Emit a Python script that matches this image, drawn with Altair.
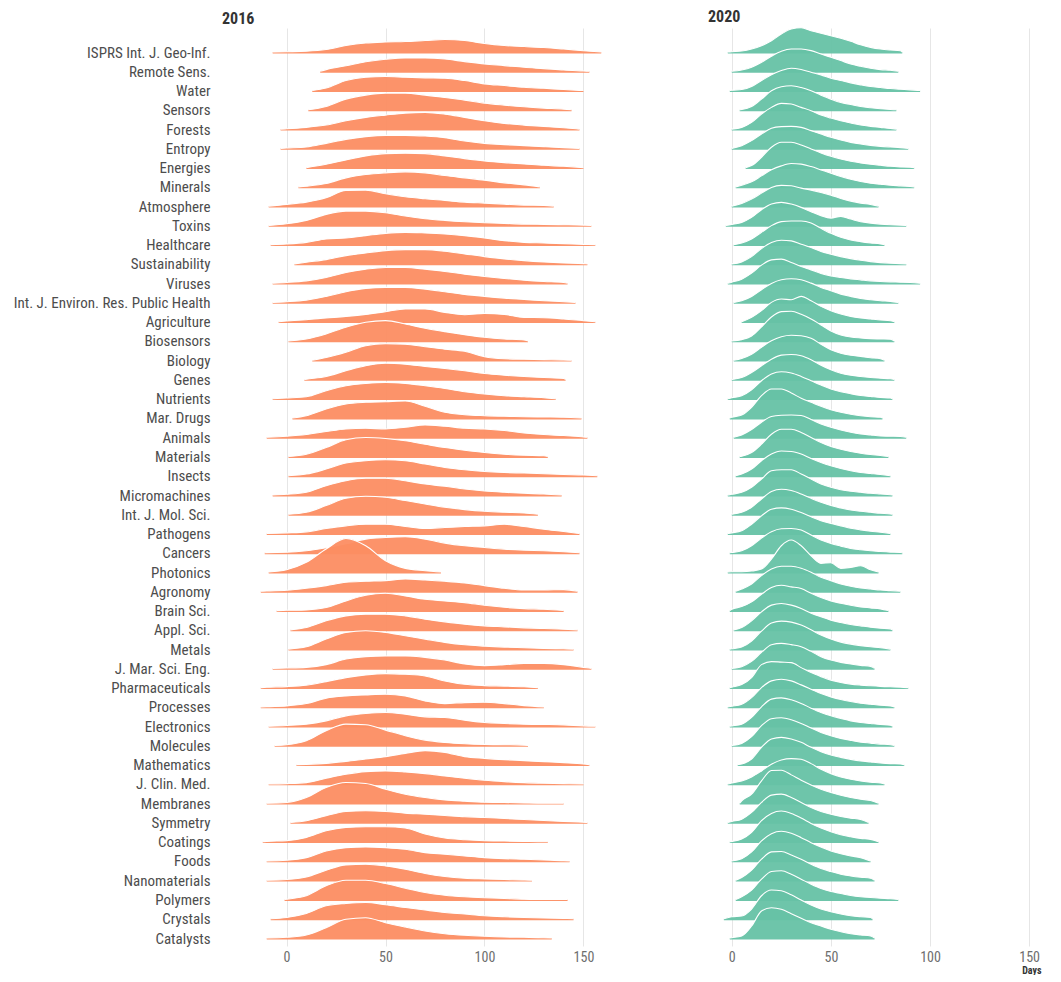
import json
import altair as alt
import pandas as pd

journals = [
    "ISPRS Int. J. Geo-Inf.", "Remote Sens.", "Water", "Sensors", "Forests", "Entropy",
    "Energies", "Minerals", "Atmosphere", "Toxins", "Healthcare", "Sustainability",
    "Viruses", "Int. J. Environ. Res. Public Health", "Agriculture", "Biosensors",
    "Biology", "Genes", "Nutrients", "Mar. Drugs", "Animals", "Materials", "Insects",
    "Micromachines", "Int. J. Mol. Sci.", "Pathogens", "Cancers", "Photonics",
    "Agronomy", "Brain Sci.", "Appl. Sci.", "Metals", "J. Mar. Sci. Eng.",
    "Pharmaceuticals", "Processes", "Electronics", "Molecules", "Mathematics",
    "J. Clin. Med.", "Membranes", "Symmetry", "Coatings", "Foods", "Nanomaterials",
    "Polymers", "Crystals", "Catalysts",
]

# ridge heights at these day positions
days_2016 = list(range(-10, 161, 10))
h_2016 = [
    [0,0.3,0.8,2.5,6.5,9,10,10.5,11.5,12.5,11.5,8.5,6.5,5.5,4.5,3,1.3,0.2],
    [0,0,0.3,1.7,5.5,9.5,12,13.3,13.3,12.3,9.7,7.3,5.7,4,2.7,1.3,0.3,0],
    [0,0,0.5,2.5,10,13.3,14,13.3,12.7,12.3,10,6.7,5,3.3,2.3,1,0.3,0],
    [0,0,0.3,3.3,10.7,14.7,16.7,16.7,14.7,12.3,9.7,6.7,4.7,3,1.7,0.7,0.2,0],
    [0,0.3,1.7,4,8.3,11.7,14,16,16.7,15,11.7,8.3,5.7,4,2.7,1.3,0.3,0],
    [0,0.3,1.3,5,9,11.7,13,13,12.3,10.7,7.3,5,3.7,2.7,1.7,0.7,0.3,0],
    [0,0,0.3,3.3,7.7,11.7,14,14.3,14,11.7,9,6.7,5,3.7,2.3,1.3,0.3,0],
    [0,0,0.7,3.3,9,12.3,14,15,14,11.3,9,6.7,4,2,0.7,0.2,0,0],
    [0.3,1.7,4,8.3,15.7,16,12.3,9.3,7.3,5.7,4,3,2,1,0.7,0.2,0,0],
    [0.3,1.7,5,11,14.3,14.3,12.7,9.3,6.7,5,3.7,2.7,2,1.3,1,0.7,0.3,0],
    [0.2,0.7,2.3,5.7,6.7,9,11.3,12.3,11.7,10.7,9,6.7,4,2.3,1.7,1,0.3,0],
    [0,0.3,1.7,4.3,8.3,11,13.3,14.3,14.3,12.7,10,7.3,5,3.3,2,1,0.3,0],
    [0,0.7,2.3,5.7,10.7,14,15.7,15.7,14,11.7,9,6.7,4.7,3,1.7,0.7,0,0],
    [0,0.7,2.3,6,10.7,14,15,15,13.3,10.7,8,6,4.3,3,1.7,0.7,0.2,0],
    [0,0.7,2,3.7,5.3,7.3,10,12.7,12.7,9.3,7,8.3,7.3,4.3,4,2.7,1,0.2],
    [0,0.3,2,7,13.7,18.7,20.3,17,12.7,9.3,6.3,3.7,2,1,0.3,0,0,0],
    [0,0,0.3,2.7,8,14.5,16.5,16,13.5,11,9,3.5,1.5,1,0.6,0.3,0.1,0],
    [0,0,0.3,3,8.7,13.7,16.3,15.3,13,11,8.7,6,4.3,3,2,1,0.3,0],
    [0,0.7,2,8,13,15.3,16.3,15.3,13,10.3,7,4.7,3,2,1,0.3,0,0],
    [0,0.3,2.3,9,14,15.7,16.3,17,11.7,5.7,3.3,2.3,1.7,1.3,1,0.7,0.3,0],
    [0.2,1,2.7,5.7,8.3,9,8.3,10,12.3,11,9,8.3,6.7,4.3,2.7,1.7,0.3,0],
    [0,0.3,2.3,9,16.7,19,18,15.7,12.3,9,6.3,4,2.3,1.3,0.7,0.3,0,0],
    [0,0.3,1.7,6.7,12.7,15,16,15,11.7,8.3,6,4.3,3.3,2.7,2,1.3,0.7,0.2],
    [0,0.7,2.7,9.3,14.3,16.7,16.7,14.3,11,8.7,6,4,2.7,1.7,1,0.3,0,0],
    [0,0.3,2,8.7,16,18,17,13.7,10.3,7,4.7,3,2,1.3,0.7,0.3,0,0],
    [0.2,0.7,1.7,5,7.7,9.3,9.3,7,5,6,7,7.7,9.3,7,4.3,2,0.3,0],
    [0.2,0.5,2,5,9,13.7,15.3,16,13.7,9.7,7,5.3,3.7,2.7,2,1,0.3,0],
    [0.3,2.3,9.7,23,33.5,26.3,11.3,3.7,1.3,0.7,0.3,0,0,0,0,0,0,0],
    [0.3,1,3,5.7,9,10,10.7,12.3,11.3,10,8.3,5.7,3,1.3,1.3,1.7,0.7,0],
    [0,0.3,0.7,3,9.7,15.3,17.3,14.7,11.3,9.7,8,5.3,3.3,2,1.3,0.7,0,0],
    [0,0.3,2.3,9,14,15.7,15.7,14,10.7,8,5.7,4,3,2,1.3,0.7,0.3,0],
    [0,0.3,2.3,10,16.7,18.3,16.7,13.3,10,6.7,4.3,3,2,1.3,0.7,0.3,0,0],
    [0,0.3,1,3.7,9.3,11.7,12.3,12.3,11,8.3,4.3,2.7,3.7,5,5,3.7,1,0.2],
    [0.3,1,2.5,6,10,12.7,14,13.3,11.7,6.7,3.3,2,1.5,0.8,0.3,0,0,0],
    [0.3,1,3.3,8.7,11,12,12.7,11,6,3.3,4.3,4.7,3.3,1.3,0.3,0,0,0],
    [0.2,0.7,2,5.3,10.3,12.7,13.7,12,9.3,8.7,6,3.7,2.7,2,1.7,1.3,0.3,0],
    [0,0.7,4.7,14.7,21.3,20.7,15.3,9.7,5.3,3,1.7,1,0.7,0.3,0,0,0,0],
    [0,0,0.3,1.3,3.3,5.7,8,11.3,14,12.3,8,6.3,5,4,3,2,0.7,0],
    [0,0.3,1.3,5.7,9.7,12.3,13,12,10.3,8,5.7,3.7,2.3,1.3,0.7,0.3,0,0],
    [0.2,0.7,5.7,15.7,20.7,19.7,14,9,5.7,3.3,2,1,0.7,0.3,0,0,0,0],
    [0,0.3,1.7,6.7,11,11.7,11,9.3,8.3,7,5.7,5,4,3,2,1,0.3,0],
    [0.3,1,4.3,11,14.3,15,15,13.7,7.7,3.7,2,1,0.7,0.3,0,0,0,0],
    [0.2,0.7,3.3,10,13.3,14,13.3,11.7,8.3,6.7,5,3.3,2.3,1.7,1,0.3,0,0],
    [0.2,0.7,3.3,10,15.3,16,14.3,11,6.7,3.7,2,1.3,0.7,0.3,0,0,0,0],
    [0,0.3,3.7,13.7,19.3,19.3,16,11.3,7,4.3,2.7,1.7,1,0.3,0,0,0,0],
    [0.2,1.3,5.3,13,15.3,16.3,14,11.3,8.7,6.3,4.7,3,2,1.3,0.7,0.3,0,0],
    [0.2,0.7,3,10.3,18.7,20.3,15.3,11,7,4.3,2.7,1.7,1,0.7,0.3,0,0,0],
]
start_2016 = [-7,17,13,11,-3,-3,10,6,-9,-9,-8,4,-7,-7,-4,
              1,13,9,-7,3,-10,1,1,-7,1,-10,-11,-9,-13,-5,2,
              1,-7,-13,-13,-9,-6,5,-9,-10,2,-12,-10,-10,-1,-8,-10]
end_2016 = [159,153,150,144,148,148,150,128,135,154,156,152,142,146,156,
            122,144,141,136,149,152,132,157,139,127,148,148,78,147,140,147,
            145,154,127,130,156,122,153,150,140,152,132,143,124,142,145,134]

days_2020 = list(range(-5, 111, 5))
h_2020 = [
    [0,0.3,1,3,6.3,11.3,18,23,24.3,21.3,18.7,16.3,13.7,10.7,7.3,4.7,3,2,1.3,0.7,0.3,0,0,0],
    [0,0.2,1.3,4,9,15,20,22.3,22.3,20.7,17.3,14,10.7,7.3,5,3,1.7,1,0.3,0,0,0,0,0],
    [0,0.3,1,4,10,15.7,20,22.3,21,18.3,15.7,12.3,10,7.7,5.7,4,3,2,1.3,0.7,0.3,0,0,0],
    [0,0,0.3,3.3,10.7,19,23,24,22.3,19,14.7,10.7,7.3,5.3,3.3,2,1,0.3,0,0,0,0,0,0],
    [0,0.3,1.7,6.7,15,21.7,25.7,25,21.7,18.3,14,11,8.3,6,4,2.7,1.7,0.7,0.3,0,0,0,0,0],
    [0,0.7,2.7,7.7,14.3,20,21.7,22,21,17.7,14.3,11,8.3,6,4.3,3,2,1.3,0.7,0.3,0,0,0,0],
    [0,0,0,2,10.3,20.3,25.3,25.3,22.7,18.7,14.7,11.3,8.7,6.3,4.7,3.3,2.3,1.3,0.7,0.3,0,0,0,0],
    [0,0.3,1.7,5,11,17,21,23.3,22.7,20.3,17,13.7,10.3,7.7,5.3,3.7,2.7,1.7,1,0.3,0,0,0,0],
    [0,0.7,2.7,7,13,18.7,20.7,20.3,18,16,13.7,11,7.7,5,3,1.7,0.7,0.3,0,0,0,0,0,0],
    [0.3,1,3,8,15.7,21.3,23,21.3,18,13.7,9.7,7.3,9,6.3,3.7,2.3,1.3,0.7,0.3,0,0,0,0,0],
    [0,0.3,1.7,5.7,12.3,19,23,23.7,23.7,21.7,16.3,11.3,7.3,4.7,3,1.7,0.7,0.3,0,0,0,0,0,0],
    [0,0.3,2,7.3,15.3,21.3,23.7,23,19.7,16.3,12.3,9.7,7.3,5.3,3.7,2.3,1.3,0.7,0.3,0.2,0,0,0,0],
    [0.2,1,4,10,18,23.3,24,20.7,16.7,13.3,9.7,7.3,5.7,4.3,3.3,2.3,1.7,1.3,1,0.7,0.3,0,0,0],
    [0,0.3,1.7,6,12.7,19,22.7,23.7,22.7,19.3,15,11.7,8.3,6,4,2.7,1.7,1,0.3,0,0,0,0,0],
    [0,0,1,4.3,11,19.3,22.7,22,25.3,21,15.3,11,7.7,5.3,3.7,2.7,1.7,1,0.3,0,0,0,0,0],
    [0,0.3,1.3,5,14,24,29.3,29.7,26.7,22,16,10,6,4,3,2.3,2,1.7,1,0.3,0,0,0,0],
    [0,0.5,1.8,6,13,19.5,23.5,25,24.5,22,16,10.5,7,5,3.8,2.5,1.5,0.8,0.5,0.2,0,0,0,0],
    [0,0.3,2,7,13.7,20.3,24.3,25,23.7,19.7,14.3,9.7,6.3,4.3,3,2,1.3,0.7,0.3,0.2,0,0,0,0],
    [0.3,1,3,9,18,24.7,27,25.7,22.3,18,13.7,9.7,7,5,3.3,2.3,1.3,0.7,0.3,0,0,0,0,0],
    [0.3,0.7,3,10.7,22.3,29,29,25,19.7,15.7,11.7,8.3,5.7,3.7,2.3,1.3,0.7,0.3,0,0,0,0,0,0],
    [0,0.3,2.3,7.7,15,20.7,22,22.3,21.7,17.7,13.3,10,7.3,5,3.3,2.3,1.3,1,0.7,0.3,0,0,0,0],
    [0,0,0.3,4,12.3,22.3,27.3,27.3,24,19,14,10,7.3,5,3.3,2,1,0.3,0,0,0,0,0,0],
    [0,0.3,1.7,6.7,15,21.7,24.7,24.3,21.7,17.3,13.3,10,7.3,5,3.3,2.3,1.3,0.7,0.3,0,0,0,0,0],
    [0.3,0.7,2.7,7.7,16,24.3,25.3,25.3,21,16,11,7.7,5.3,3.7,2.7,1.7,1,0.3,0,0,0,0,0,0],
    [0,0.3,2,7,15.3,22.7,25,23.7,20.3,16,12,8.7,6.3,4.3,3,2,1,0.3,0,0,0,0,0,0],
    [0.3,0.7,2.7,9.3,17.7,24.3,25.7,24.3,21,16.7,12.7,10,7.7,5.3,3.7,2.3,1.3,0.7,0.3,0,0,0,0,0],
    [0,0.3,2,7,14.7,21,24,24.3,22.7,17.7,12.7,9.3,6.7,4.3,3,2,1.3,0.7,0.3,0.2,0,0,0,0],
    [0,0.3,0.3,1,3,13,26.3,32,26.3,16.3,8.7,9.3,3.7,4.7,6.3,2.3,0.3,0,0,0,0,0,0,0],
    [0,0.3,2.3,7.3,15.7,22.3,25,25,23,19,14,10.7,7.3,5,3.3,2.3,1.3,0.7,0.3,0,0,0,0,0],
    [0.3,1.3,4,8.7,16.3,23,25.3,23.7,22,17.3,13,9.7,7.3,5.3,3.7,2.7,1.7,1,0.3,0,0,0,0,0],
    [0,0.3,2.3,9,18,24.7,26.3,24.7,21.3,16.7,13,9.7,7.3,5.3,4,2.7,1.7,1,0.7,0.3,0,0,0,0],
    [0,0.3,2,8,18,26,28,27,24,19.3,14,10,7,5,3.5,2.3,1.3,0.7,0.3,0,0,0,0,0],
    [0,0.3,1.7,7,16,23.7,25,23.7,21.7,17,11.7,8.3,6,4.3,3,2,1.3,0.7,0.3,0,0,0,0,0],
    [0.2,0.5,3,10,23,26,25.5,25,20,15,11,7.5,5.2,3.5,2.5,1.8,1.2,0.8,0.5,0.3,0.2,0,0,0],
    [0.3,0.7,2.7,9.3,19.3,26,27.7,26,22,17.7,13.3,10,7.3,5.3,3.7,2.7,1.7,1,0.7,0.3,0,0,0,0],
    [0,0.3,2,8.7,19.3,27,28.3,26.3,22.7,18,13.7,10.3,7.7,5.3,3.7,2.7,1.7,1,0.7,0.3,0,0,0,0],
    [0,0.3,2,8.7,19.7,26.7,27.7,25.7,22,17.3,13,9.7,7,5,3.3,2.3,1.3,0.7,0.3,0,0,0,0,0],
    [0,0,0.7,5.7,17.3,25.7,27.3,25.7,22.3,17.3,13,9.7,7.3,5.3,3.7,2.7,1.7,1,0.7,0.3,0,0,0,0],
    [0.3,1,3,7,13,19.7,24,25.3,24.7,20.3,14.7,10.3,7,4.7,3,1.7,1,0.3,0,0,0,0,0,0],
    [0,0.3,2.3,9,22.3,32.7,33,28.3,23,18.3,14,10.7,8,5.7,4,2.7,1.7,1,0.3,0,0,0,0,0],
    [0.3,1,3.3,10,20,27.3,28.3,25,20,15,11,8.3,6,4.3,3,2,1,0.7,0.3,0,0,0,0,0],
    [0,0.3,2.7,9.3,21,28.3,30.7,28.3,23.7,18.3,13.7,10,7,5,3.3,2.3,1.3,0.7,0.5,0.2,0,0,0,0],
    [0,0.3,2.3,9,20,27.3,29.7,27.7,23.3,18.3,14,10,7.3,5,3.3,2.3,1.3,0.7,0.3,0,0,0,0,0],
    [0,0.3,2.7,10,21,28.3,28.7,25.3,21,16,11.7,8.7,6,4.3,3,2,1,0.7,0.3,0,0,0,0,0],
    [0,0.3,2.7,9.3,20.3,28,28.7,25.3,20.3,15.3,11,8,6,4,2.7,2,1.3,0.7,0.3,0.2,0.1,0,0,0],
    [0.7,2,2.7,9.7,23,28.7,28,24,18.7,13.7,9.7,7,4.7,3,2,1.3,0.7,0.3,0,0,0,0,0,0],
    [0,0.3,2,12,27,30.3,28.7,24.3,19.7,15.3,12,8.7,6.3,4.3,3,2,1,0.3,0,0,0,0,0,0],
]
start_2020 = [-2,0,-1,4,0,0,7,2,0,-3,1,0,-2,1,5,
              0,1,0,-2,-1,1,4,2,-2,0,-2,-1,-2,2,-1,1,
              -1,0,-1,-2,-1,0,3,-2,4,-2,-1,0,2,2,-4,-1]
end_2020 = [86,84,95,83,83,89,92,92,74,88,77,88,95,84,82,
            82,77,82,81,76,88,79,80,81,81,80,86,74,85,79,81,
            80,72,89,82,81,82,87,77,74,69,74,70,72,84,71,72]

N = len(journals)
ROW = 19.26          # vertical spacing of ridges in y units
THIN = 1.4           # tail thickness below each baseline
FONT = "'Roboto Condensed', 'Liberation Sans Narrow', 'DejaVu Sans Condensed', Roboto, sans-serif"


def build(heights, grid, starts, ends):
    rows = []
    for i, (name, vals, a, b) in enumerate(zip(journals, heights, starts, ends)):
        assert len(vals) == len(grid), (name, len(vals))
        base = (N - 1 - i) * ROW
        pts = [(a, 0.0)] + [(g, v) for g, v in zip(grid, vals) if a < g < b] + [(b, 0.0)]
        for x, v in pts:
            rows.append({"i": i, "journal": name, "x": x, "y": base + v, "y2": base - THIN})
    return pd.DataFrame(rows)


df16 = build(h_2016, days_2016, start_2016, end_2016)
df20 = build(h_2020, days_2020, start_2020, end_2020)

bases = [k * ROW for k in range(N)]
label_expr = json.dumps(journals[::-1]) + f"[round(datum.value / {ROW})]"
Y_DOMAIN = [-8, 910]
HEIGHT = 918
PX = 1.98  # pixels per day


def panel(df, color, xdom, title, title_dx, show_labels, xtitle):
    width = round((xdom[1] - xdom[0]) * PX)
    xaxis = alt.Axis(values=[0, 50, 100, 150], grid=True, gridColor="#e6e6e6", gridWidth=1,
                     domain=False, ticks=False, labelFontSize=14, labelColor="#6e6e6e",
                     labelFont=FONT, labelPadding=4, labelFlush=False,
                     title=xtitle if xtitle else None,
                     titleFontSize=10, titleFontWeight="bold", titleColor="#333333",
                     titleFont=FONT, titleAnchor="end", titleAlign="right", titlePadding=1)
    if show_labels:
        yaxis = alt.Axis(values=bases, labelExpr=label_expr, grid=False, domain=False,
                         ticks=False, labelPadding=33, labelFontSize=15, labelLimit=400,
                         labelColor="#4d4d4d", labelFont=FONT, labelOverlap=False,
                         labelFlush=False, title=None)
    else:
        yaxis = None
    X = alt.X("x:Q", scale=alt.Scale(domain=xdom, nice=False, zero=False), axis=xaxis)
    Y = alt.Y("y:Q", scale=alt.Scale(domain=Y_DOMAIN, nice=False, zero=False), axis=yaxis)
    layers = []
    for i in range(N):
        sub = alt.Chart().transform_filter(alt.datum.i == i)
        layers.append(sub.mark_area(color=color, opacity=0.95, interpolate="monotone")
                      .encode(x=X, y=Y, y2="y2:Q"))
        layers.append(sub.mark_line(color="white", strokeWidth=1.1, interpolate="monotone")
                      .encode(x=X, y=Y))
    return alt.layer(*layers, data=df).properties(
        width=width, height=HEIGHT,
        title=alt.TitleParams(title, anchor="start", frame="group", fontSize=16, font=FONT,
                              fontWeight="bold", color="#333333", dx=title_dx, offset=1),
    )


left = panel(df16, "#FC8D62", [-22, 170], "2016", -21, True, None)
right = panel(df20, "#66C2A5", [-12, 156], "2020", 0, False, "Days")

chart = alt.hconcat(left, right, spacing=85).properties(
    padding={"left": 5, "top": 0, "right": 2, "bottom": 0}
).configure(background="white", view=alt.ViewConfig(stroke=None))
chart.save("out.html", embed_options={"renderer": "svg", "actions": False})
